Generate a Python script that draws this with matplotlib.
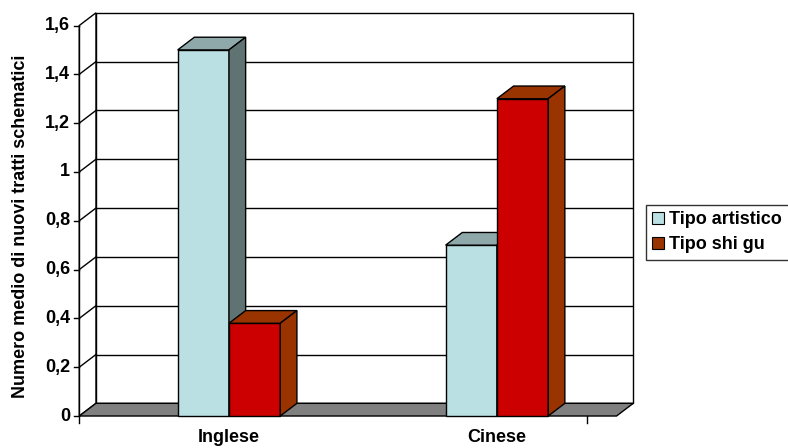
import matplotlib
matplotlib.use('Agg')
import matplotlib.pyplot as plt
from matplotlib.patches import Polygon, Patch

plt.rcParams['font.family'] = ['Liberation Sans', 'DejaVu Sans']
plt.rcParams['font.weight'] = 'bold'

categories = ['Inglese', 'Cinese']
series_names = ['Tipo artistico', 'Tipo shi gu']
artistico = [1.5, 0.7]
shi_gu = [0.38, 1.3]
yticks = [0, 0.2, 0.4, 0.6, 0.8, 1.0, 1.2, 1.4, 1.6]
ytick_labels = ['0', '0,2', '0,4', '0,6', '0,8', '1', '1,2', '1,4', '1,6']

# face colours: front, top, side
blue = ('#BBE0E3', '#8FA9AB', '#5F7373')
red = ('#CC0000', '#993300', '#993300')

# 3d look: depth offset of the walls, in data units
DX, DY = 0.0623, 0.052
BAR_W = 0.1914
X0, X1 = -0.5586, 1.4466     # front edge of the floor
YMAX = 1.6
FS = 13

fig = plt.figure(figsize=(7.88, 4.48), dpi=100)
ax = fig.add_axes([0.1006, 0.0714, 0.703, 0.900])
ax.set_xlim(X0, X1 + DX)
ax.set_ylim(0, YMAX + DY)
ax.axis('off')

def poly(pts, fc, lw=1.0, z=1):
    ax.add_patch(Polygon(pts, closed=True, facecolor=fc, edgecolor='black',
                         linewidth=lw, zorder=z, clip_on=False))

# back wall and side wall
poly([(X0 + DX, DY), (X1 + DX, DY), (X1 + DX, YMAX + DY), (X0 + DX, YMAX + DY)], 'white', z=1)
poly([(X0, 0), (X0 + DX, DY), (X0 + DX, YMAX + DY), (X0, YMAX)], 'white', z=1)

for v in yticks[1:-1]:
    ax.plot([X0 + DX, X1 + DX], [v + DY, v + DY], color='black', lw=1.0, zorder=2)
    ax.plot([X0, X0 + DX], [v, v + DY], color='black', lw=1.0, zorder=2)

# floor
poly([(X0, 0), (X1, 0), (X1 + DX, DY), (X0 + DX, DY)], '#808080', z=3)

# front axis with ticks
ax.plot([X0, X0], [-0.027, YMAX], color='black', lw=1.0, zorder=3, clip_on=False)
for v, lab in zip(yticks, ytick_labels):
    ax.plot([X0 - 0.02, X0], [v, v], color='black', lw=1.0, zorder=3, clip_on=False)
    ax.text(X0 - 0.035, v, lab, ha='right', va='center', fontsize=FS,
            fontweight='bold')
ax.plot([1.336, 1.336], [0, -0.027], color='black', lw=1.0, zorder=3, clip_on=False)

def bar3d(x, h, cols, z):
    front, top, side = cols
    poly([(x, 0), (x + BAR_W, 0), (x + BAR_W, h), (x, h)], front, z=z)
    poly([(x, h), (x + BAR_W, h), (x + BAR_W + DX, h + DY), (x + DX, h + DY)], top, z=z)
    poly([(x + BAR_W, 0), (x + BAR_W + DX, DY), (x + BAR_W + DX, h + DY), (x + BAR_W, h)], side, z=z)

for i, cat in enumerate(categories):
    bar3d(i - BAR_W, artistico[i], blue, 4)
    bar3d(i, shi_gu[i], red, 5)
    ax.text(i, -0.088, cat, ha='center', va='center', fontsize=FS, fontweight='bold')

fig.text(0.026, 0.494, 'Numero medio di nuovi tratti schematici', rotation=90,
         ha='center', va='center', fontsize=FS, fontweight='bold')

handles = [Patch(facecolor=blue[0], edgecolor='black', linewidth=0.8),
           Patch(facecolor=red[1], edgecolor='black', linewidth=0.8)]
leg = fig.legend(handles, series_names, loc='upper left',
                 bbox_to_anchor=(646 / 788, 1 - 205 / 448),
                 fancybox=False, frameon=True, fontsize=FS,
                 handlelength=0.65, handleheight=0.65, handletextpad=0.3,
                 labelspacing=0.45, borderpad=0.35, borderaxespad=0)
leg.get_frame().set_edgecolor('black')
leg.get_frame().set_linewidth(1.0)
for t in leg.get_texts():
    t.set_fontweight('bold')

fig.savefig('out.png', dpi=100)
